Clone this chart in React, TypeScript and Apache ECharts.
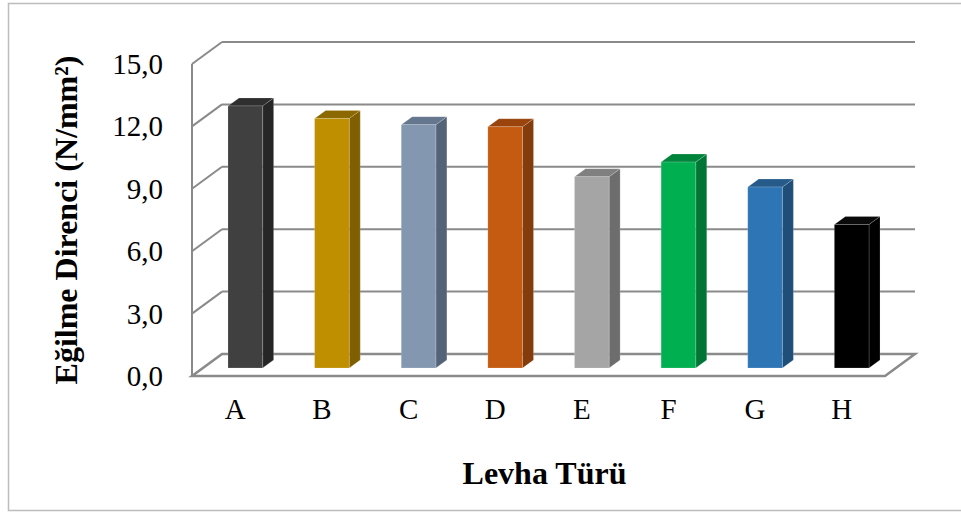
import React, { useEffect, useRef } from "react";
import * as echarts from "echarts";

// Levha türlerine göre eğilme direnci (N/mm²)
const categories: string[] = ["A", "B", "C", "D", "E", "F", "G", "H"];
const values: number[] = [12.6, 12.0, 11.7, 11.6, 9.2, 9.9, 8.7, 6.9];
const yTicks: number[] = [0, 3, 6, 9, 12, 15];

// front face / side / top colours for each bar
const faceColors = ["#404040", "#bf8f00", "#8497b0", "#c55a11", "#a5a5a5", "#00b050", "#2e75b6", "#000000"];
const sideColors = ["#262626", "#7f5f00", "#546378", "#843c0c", "#6d6d6d", "#007535", "#1f4e79", "#000000"];
const topColors = ["#2f2f2f", "#8c6900", "#65778f", "#9a430c", "#808080", "#00843c", "#255a8a", "#0a0a0a"];

const FONT = "'Liberation Serif', 'Times New Roman', serif";
const WALL_DX = 30; // depth of the plot box
const WALL_DY = -22;
const BAR_OX = 10; // bar front face offset into the box
const BAR_OY = -8;
const BAR_DX = 11; // bar depth
const BAR_DY = -8;
const BAR_RATIO = 0.4;
const GRID_COLOR = "#8a8a8a";

export default function App() {
  const ref = useRef<HTMLDivElement>(null);

  useEffect(() => {
    if (!ref.current) return;
    const chart = echarts.init(ref.current, null, { renderer: "svg" });

    const frameItem = (params: any, api: any) => {
      const cs = params.coordSys;
      const v = api.value(1);
      const y = api.coord([0, v])[1];
      const xl = cs.x;
      const xr = cs.x + cs.width;
      const line = { stroke: GRID_COLOR, lineWidth: 2, fill: null };
      const children: any[] = [];
      if (v === 0) {
        children.push({
          type: "polygon",
          shape: {
            points: [
              [xl, y],
              [xr, y],
              [xr + WALL_DX, y + WALL_DY],
              [xl + WALL_DX, y + WALL_DY],
            ],
          },
          style: { fill: "#ffffff", stroke: GRID_COLOR, lineWidth: 2.5 },
        });
        const yTop = api.coord([0, yTicks[yTicks.length - 1]])[1];
        children.push({
          type: "line",
          shape: { x1: xl, y1: y, x2: xl, y2: yTop },
          style: line,
        });
      } else {
        children.push({
          type: "line",
          shape: { x1: xl + WALL_DX, y1: y + WALL_DY, x2: xr + WALL_DX, y2: y + WALL_DY },
          style: line,
        });
        children.push({
          type: "line",
          shape: { x1: xl, y1: y, x2: xl + WALL_DX, y2: y + WALL_DY },
          style: line,
        });
      }
      return { type: "group", children };
    };

    const barItem = (params: any, api: any) => {
      const i = api.value(0);
      const v = api.value(1);
      const base = api.coord([i, 0]);
      const top = api.coord([i, v]);
      const band = api.size([1, 0])[0];
      const half = (band * BAR_RATIO) / 2;
      const xl = base[0] - half + BAR_OX;
      const xr = base[0] + half + BAR_OX;
      const yb = base[1] + BAR_OY;
      const yt = top[1] + BAR_OY;
      const edge = "rgba(255,255,255,0.35)";
      return {
        type: "group",
        children: [
          {
            type: "polygon",
            shape: {
              points: [
                [xr, yt],
                [xr + BAR_DX, yt + BAR_DY],
                [xr + BAR_DX, yb + BAR_DY],
                [xr, yb],
              ],
            },
            style: { fill: sideColors[i], stroke: edge, lineWidth: 0.5 },
          },
          {
            type: "polygon",
            shape: {
              points: [
                [xl, yt],
                [xl + BAR_DX, yt + BAR_DY],
                [xr + BAR_DX, yt + BAR_DY],
                [xr, yt],
              ],
            },
            style: { fill: topColors[i], stroke: edge, lineWidth: 0.5 },
          },
          {
            type: "rect",
            shape: { x: xl, y: yt, width: xr - xl, height: yb - yt },
            style: { fill: faceColors[i], stroke: edge, lineWidth: 0.5 },
          },
        ],
      };
    };

    chart.setOption({
      animation: false,
      backgroundColor: "#ffffff",
      grid: { left: 192, right: 76, top: 64, bottom: 137, containLabel: false },
      graphic: [
        {
          type: "rect",
          shape: { x: 8.5, y: 3.5, width: 980, height: 507 },
          style: { fill: null, stroke: "#bdbdbd", lineWidth: 1.5 },
          silent: true,
          z: -10,
        },
      ],
      xAxis: {
        type: "category",
        data: categories,
        axisLine: { show: false },
        axisTick: { show: false },
        axisLabel: { fontFamily: FONT, fontSize: 29, color: "#000", margin: 18 },
        name: "Levha Türü",
        nameLocation: "middle",
        nameGap: 81,
        nameTextStyle: { fontFamily: FONT, fontSize: 32, fontWeight: "bold", color: "#000", padding: [0, 0, 0, 12] },
      },
      yAxis: {
        type: "value",
        min: 0,
        max: 15,
        interval: 3,
        axisLine: { show: false },
        axisTick: { show: false },
        splitLine: { show: false },
        axisLabel: {
          fontFamily: FONT,
          fontSize: 29,
          color: "#000",
          margin: 29,
          formatter: (v: number) => v.toFixed(1).replace(".", ","),
        },
        name: "Eğilme Direnci (N/mm²)",
        nameLocation: "middle",
        nameRotate: 90,
        nameGap: 110,
        nameTextStyle: { fontFamily: FONT, fontSize: 32, fontWeight: "bold", color: "#000" },
      },
      series: [
        {
          type: "custom",
          renderItem: frameItem,
          data: yTicks.map((t) => [0, t]),
          encode: { x: 0, y: 1 },
          silent: true,
          z: 1,
        },
        {
          type: "custom",
          renderItem: barItem,
          data: values.map((v, i) => [i, v]),
          encode: { x: 0, y: 1 },
          z: 2,
        },
      ],
    });

    return () => chart.dispose();
  }, []);

  return (
    <div
      ref={ref}
      style={{ position: "fixed", left: 0, top: 0, width: 961, height: 513 }}
    />
  );
}
